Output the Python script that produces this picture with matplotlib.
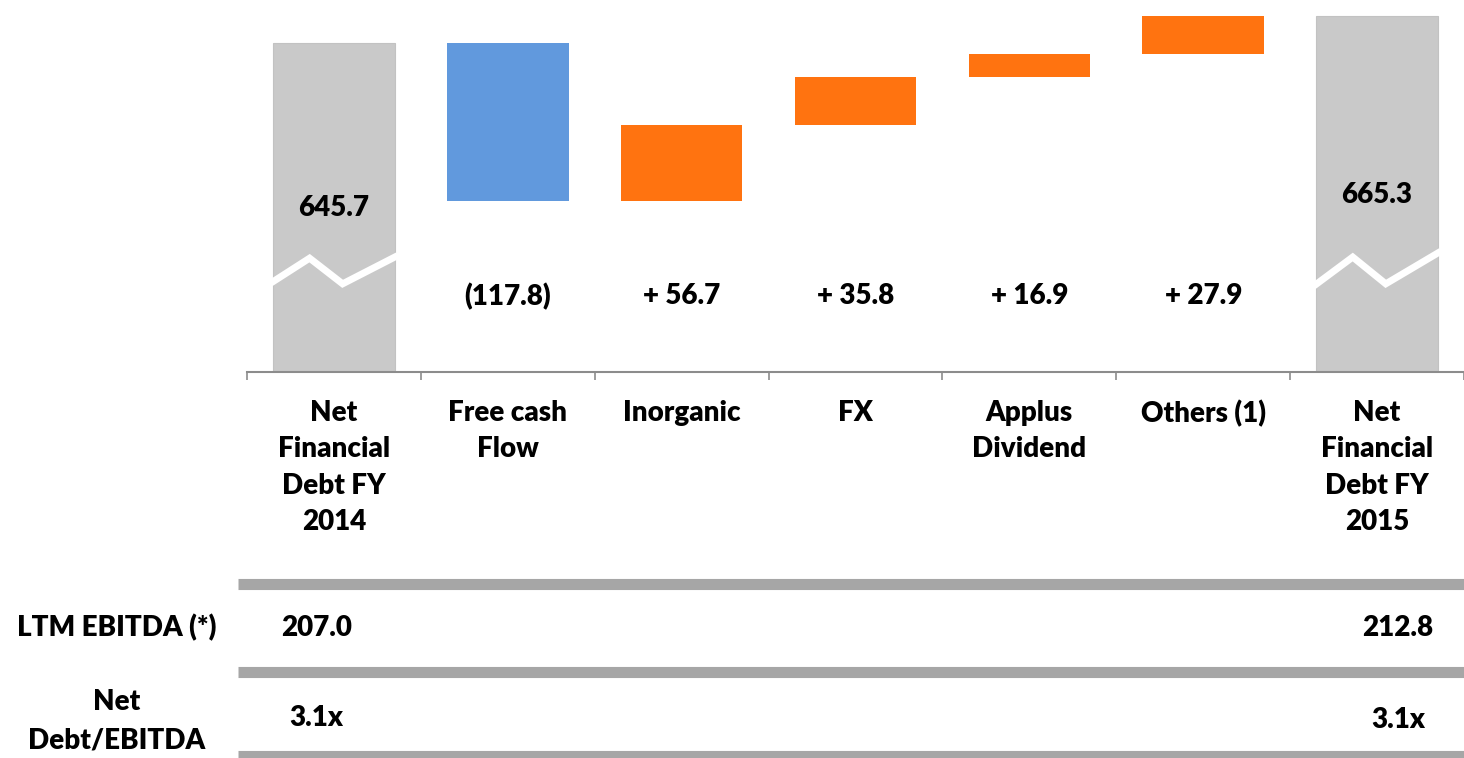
import numpy as np
import matplotlib.pyplot as plt
import matplotlib.transforms as mtransforms

# ---- data ----
categories = ["Net\nFinancial\nDebt FY\n2014", "Free cash\nFlow", "Inorganic", "FX",
              "Applus\nDividend", "Others (1)", "Net\nFinancial\nDebt FY\n2015"]
start_value = 645.7
end_value = 665.3
deltas = [-117.8, 56.7, 35.8, 16.9, 27.9]

row_names = ["LTM EBITDA (*)", "Net\nDebt/EBITDA"]
ebitda = ["207.0", "212.8"]
leverage = ["3.1x", "3.1x"]

GRAY = "#c9c9c9"
BLUE = "#6199dd"
ORANGE = "#ff7310"
BAND = "#a6a6a6"

plt.rcParams['font.family'] = ['Lato', 'DejaVu Sans']
WT = 'heavy'
plt.rcParams['font.weight'] = WT
FS = 20

W, H = 1464, 758
fig = plt.figure(figsize=(W / 100, H / 100), dpi=100)
ax = fig.add_axes([247 / W, 1 - 372 / H, 1 - 247 / W, 372 / H])

x = np.arange(len(categories))
bw = 0.7

# totals
ax.bar([x[0], x[-1]], [start_value, end_value], bw, color=GRAY, edgecolor="#c2c2c2", linewidth=0.8)

# waterfall steps
running = start_value
for i, d in enumerate(deltas, start=1):
    col = BLUE if d < 0 else ORANGE
    ax.bar(x[i], d, bw, bottom=running, color=col)
    running += d

ax.set_xlim(-0.5, len(categories) - 0.5)
ax.set_ylim(400, 677.5)

trans = mtransforms.blended_transform_factory(ax.transData, ax.transAxes)

# axis-break zigzags on the total bars
for xc, ys in [(x[0], [0.243, 0.306, 0.237, 0.309]), (x[-1], [0.236, 0.309, 0.237, 0.320])]:
    ax.plot([xc - 0.35, xc - 0.14, xc + 0.05, xc + 0.35], ys, color="white", lw=5,
            solid_joinstyle="miter", transform=trans, zorder=3)

# labels
ax.text(x[0], 0.44, f"{start_value:.1f}", transform=trans, ha="center", va="center", fontsize=FS, zorder=4)
ax.text(x[-1], 0.476, f"{end_value:.1f}", transform=trans, ha="center", va="center", fontsize=FS, zorder=4)
for i, d in enumerate(deltas, start=1):
    txt = f"({abs(d):.1f})" if d < 0 else f"+ {d:.1f}"
    ax.text(x[i], 0.204, txt, transform=trans, ha="center", va="center", fontsize=FS)

# axis styling
for s in ["top", "left", "right"]:
    ax.spines[s].set_visible(False)
ax.spines["bottom"].set_color("#8c8c8c")
ax.spines["bottom"].set_linewidth(1.5)
ax.set_yticks([])
ax.set_xticks(x)
ax.set_xticklabels(categories, fontsize=FS, fontweight=WT)
ax.set_xticks(np.arange(len(categories) + 1) - 0.5, minor=True)
ax.tick_params(axis="x", which="major", length=0, pad=20)
ax.tick_params(axis="x", which="minor", length=6, width=1.2, color="#8c8c8c")
for lbl in ax.get_xticklabels():
    lbl.set_linespacing(1.5)

# ---- table below ----
tab = fig.add_axes([0, 0, 1, 1])
tab.set_xlim(0, W)
tab.set_ylim(H, 0)
tab.axis("off")
for yb in [583.5, 672, 756]:
    tab.plot([238, W], [yb, yb], color=BAND, lw=8, solid_capstyle="butt")

tab.text(117, 628, row_names[0], ha="center", va="center", fontsize=FS)
tab.text(117, 721, row_names[1], ha="center", va="center", fontsize=FS, linespacing=1.6)
tab.text(317, 628, ebitda[0], ha="center", va="center", fontsize=FS)
tab.text(1398, 628, ebitda[1], ha="center", va="center", fontsize=FS)
tab.text(316, 718, leverage[0], ha="center", va="center", fontsize=FS)
tab.text(1398, 720, leverage[1], ha="center", va="center", fontsize=FS)

fig.savefig("out.png", dpi=100)
